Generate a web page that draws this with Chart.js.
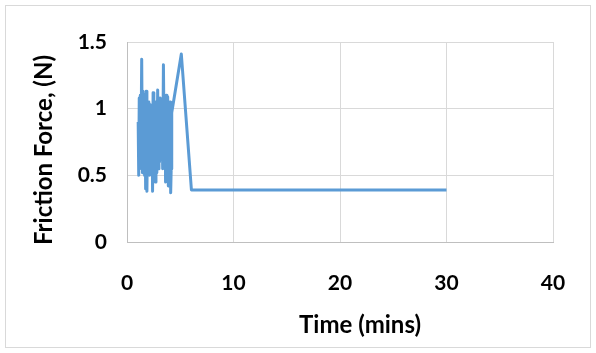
<!DOCTYPE html>
<html>
<head>
<meta charset="utf-8">
<script src="https://cdn.jsdelivr.net/npm/chart.js@4"></script>
<style>
  html, body { margin: 0; padding: 0; background: #fff; }
  #wrap { position: relative; width: 596px; height: 353px; }
  #frame { position: absolute; left: 5px; top: 5px; width: 584px; height: 341px; border: 1px solid #d9d9d9; pointer-events: none; }
</style>
</head>
<body>
<div id="wrap">
  <canvas id="chart" width="596" height="353"></canvas>
  <div id="frame"></div>
</div>
<script>
// time in minutes and measured friction force (N)
var timeMins = [1.05, 1.1, 1.15, 1.2, 1.25, 1.3, 1.38, 1.45, 1.5, 1.55, 1.6, 1.65, 1.7, 1.75, 1.8, 1.87,
  1.95, 2.0, 2.05, 2.12, 2.2, 2.28, 2.35, 2.4, 2.45, 2.52, 2.6, 2.65, 2.72, 2.8, 2.88, 2.95,
  3.0, 3.05, 3.12, 3.2, 3.28, 3.35, 3.42, 3.5, 3.57, 3.62, 3.7, 3.75, 3.82, 3.88, 3.95, 4.0,
  4.05, 4.1, 4.15, 4.2, 5.1, 6.05, 30];
var frictionN = [0.90, 0.50, 1.08, 0.55, 1.10, 0.60, 1.37, 0.52, 1.13, 0.62, 1.10, 0.50, 0.95, 0.40, 1.13, 0.38,
  1.00, 0.55, 1.05, 0.50, 1.03, 0.55, 0.95, 0.38, 1.12, 0.50, 0.98, 0.45, 1.05, 0.52, 1.14, 0.55,
  1.00, 0.60, 1.08, 0.62, 1.05, 0.55, 1.33, 0.65, 1.05, 0.45, 1.10, 0.55, 1.09, 0.42, 0.95, 0.42,
  1.05, 0.37, 0.55, 0.97, 1.41, 0.39, 0.39];
var xTicks = [0, 10, 20, 30, 40];
var yTicks = [0, 0.5, 1, 1.5];

var points = timeMins.map(function (t, i) { return {x: t, y: frictionN[i]}; });
var fontFamily = "Lato, 'Open Sans', sans-serif";

// axis titles drawn at fixed spots like the original
var axisTitles = {
  id: 'axisTitles',
  afterDraw: function (chart) {
    var c = chart.ctx;
    c.save();
    c.fillStyle = '#000';
    c.font = "bold 24px " + fontFamily;
    c.textAlign = 'center';
    c.textBaseline = 'middle';
    c.fillText('Time (mins)', 360, 325);
    c.translate(44, 150);
    c.rotate(-Math.PI / 2);
    c.fillText('Friction Force, (N)', 0, 0);
    c.restore();
  }
};

new Chart(document.getElementById('chart'), {
  type: 'scatter',
  data: {
    datasets: [{
      data: points,
      showLine: true,
      borderColor: '#5b9bd5',
      backgroundColor: '#5b9bd5',
      borderWidth: 3,
      borderJoinStyle: 'round',
      pointRadius: 0,
      tension: 0
    }]
  },
  options: {
    responsive: false,
    animation: false,
    layout: { padding: { left: 0, top: 42, right: 43, bottom: 0 } },
    plugins: { legend: { display: false }, tooltip: { enabled: false } },
    scales: {
      x: {
        type: 'linear',
        min: 0, max: 40,
        afterBuildTicks: function (s) { s.ticks = xTicks.map(function (v) { return {value: v}; }); },
        afterFit: function (s) { s.height = 111; },
        grid: { color: '#d9d9d9', drawTicks: false },
        border: { color: '#bfbfbf' },
        ticks: { padding: 29, color: '#000', font: { family: fontFamily, size: 21, weight: 'bold' },
          callback: function (v) { return String(v); } }
      },
      y: {
        min: 0, max: 1.5,
        afterBuildTicks: function (s) { s.ticks = yTicks.map(function (v) { return {value: v}; }); },
        afterFit: function (s) { s.width = 127; },
        grid: { color: '#d9d9d9', drawTicks: false },
        border: { color: '#bfbfbf' },
        ticks: { padding: 20, color: '#000', font: { family: fontFamily, size: 21, weight: 'bold' },
          callback: function (v) { return String(v); } }
      }
    }
  },
  plugins: [axisTitles]
});
</script>
</body>
</html>
